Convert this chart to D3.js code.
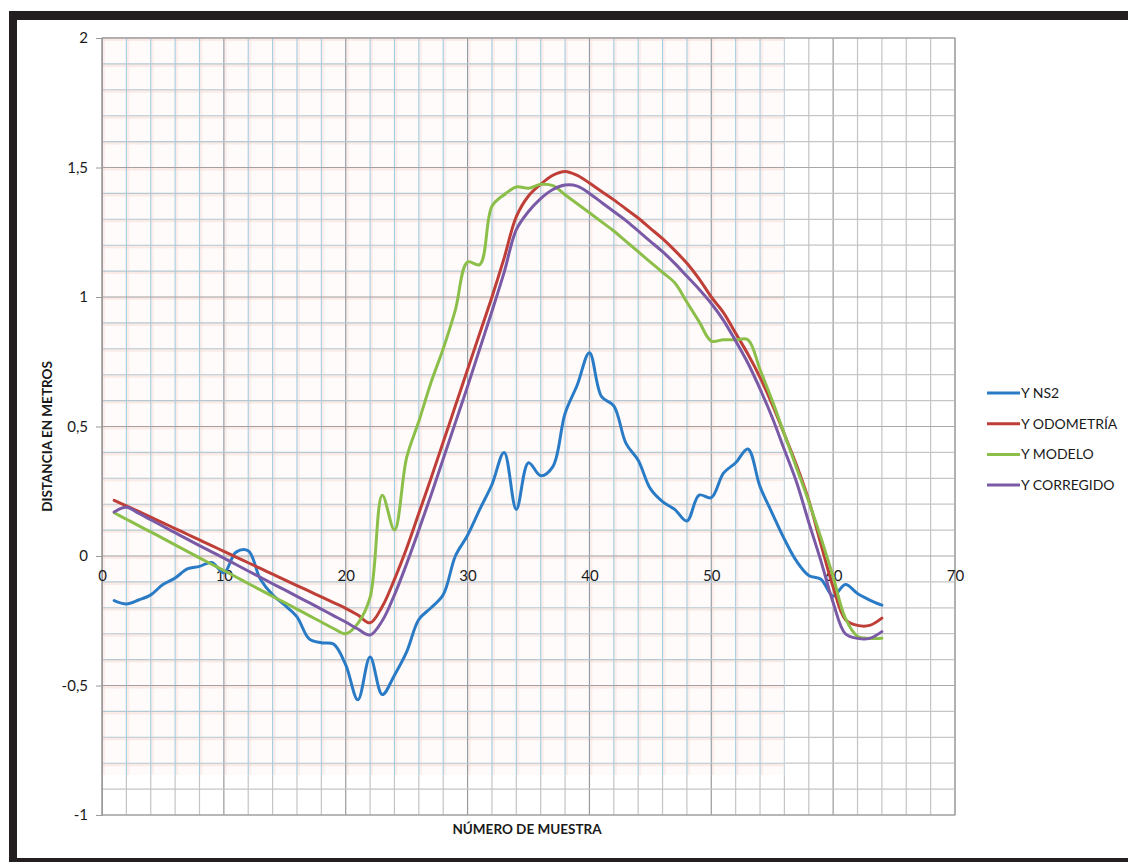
<!DOCTYPE html>
<html>
<head>
<meta charset="utf-8">
<script src="https://cdn.jsdelivr.net/npm/d3@7"></script>
<style>
  body { margin: 0; background: #fff; }
  svg { display: block; }
  text { font-family: Lato, "Open Sans", "Liberation Sans", sans-serif; fill: #1a1a1a; }
</style>
</head>
<body>
<svg id="chart" width="1128" height="862"></svg>
<script>
// Sample numbers 1..64
const samples = d3.range(1, 65);

// Y position per sample (metres)
const yNS2 = [
  -0.172, -0.185, -0.170, -0.150, -0.110, -0.085, -0.050, -0.040, -0.025, -0.065,
   0.015,  0.020, -0.090, -0.150, -0.190, -0.235, -0.320, -0.335, -0.340, -0.420,
  -0.555, -0.390, -0.535, -0.460, -0.370, -0.245, -0.200, -0.150,  0.000,  0.080,
   0.180,  0.276,  0.400,  0.180,  0.360,  0.310,  0.345,  0.550,  0.660,  0.785,
   0.615,  0.580,  0.435,  0.370,  0.260,  0.210,  0.180,  0.135,  0.235,  0.225,
   0.320,  0.360,  0.413,  0.268,  0.165,  0.065, -0.020, -0.075, -0.090, -0.155,
  -0.110, -0.145, -0.170, -0.190
];
const yOdometria = [
   0.215,  0.194,  0.172,  0.150,  0.128,  0.106,  0.084,  0.062,  0.040,  0.018,
  -0.004, -0.026, -0.048, -0.070, -0.092, -0.114, -0.136, -0.158, -0.180, -0.202,
  -0.228, -0.258, -0.195, -0.090,  0.030,  0.165,  0.300,  0.440,  0.580,  0.720,
   0.860,  1.000,  1.150,  1.310,  1.390,  1.435,  1.470,  1.485,  1.470,  1.440,
   1.407,  1.375,  1.340,  1.305,  1.265,  1.225,  1.180,  1.130,  1.070,  1.000,
   0.940,  0.860,  0.780,  0.690,  0.585,  0.470,  0.350,  0.215,  0.045, -0.120,
  -0.245, -0.268, -0.268, -0.240
];
const yModelo = [
   0.167,  0.142,  0.117,  0.093,  0.068,  0.043,  0.018, -0.007, -0.032, -0.056,
  -0.081, -0.106, -0.131, -0.156, -0.180, -0.205, -0.230, -0.255, -0.280, -0.300,
  -0.260, -0.160,  0.235,  0.100,  0.380,  0.520,  0.670,  0.800,  0.950,  1.135,
   1.125,  1.350,  1.395,  1.425,  1.420,  1.435,  1.430,  1.395,  1.360,  1.325,
   1.290,  1.255,  1.215,  1.175,  1.135,  1.095,  1.055,  0.980,  0.905,  0.830,
   0.835,  0.835,  0.835,  0.720,  0.600,  0.470,  0.340,  0.210,  0.070, -0.080,
  -0.240, -0.310, -0.318, -0.318
];
const yCorregido = [
   0.170,  0.188,  0.165,  0.140,  0.115,  0.090,  0.065,  0.040,  0.016, -0.008,
  -0.033, -0.058, -0.082, -0.107, -0.131, -0.156, -0.180, -0.205, -0.230, -0.255,
  -0.282, -0.305, -0.250, -0.150, -0.030,  0.100,  0.235,  0.375,  0.515,  0.655,
   0.800,  0.945,  1.095,  1.260,  1.330,  1.380,  1.415,  1.432,  1.428,  1.400,
   1.365,  1.330,  1.295,  1.255,  1.215,  1.175,  1.130,  1.080,  1.030,  0.975,
   0.910,  0.830,  0.745,  0.645,  0.535,  0.410,  0.285,  0.130, -0.020, -0.180,
  -0.300, -0.318, -0.318, -0.292
];

const seriesNames = ["Y NS2", "Y ODOMETRÍA", "Y MODELO", "Y CORREGIDO"];
const seriesColors = ["#2a7bc6", "#bf3f38", "#8cbf4a", "#7a5aa6"];
const seriesValues = [yNS2, yOdometria, yModelo, yCorregido];

const xTicks = [0, 10, 20, 30, 40, 50, 60, 70];
const yTicks = [2, 1.5, 1, 0.5, 0, -0.5, -1];
const yTickLabels = ["2", "1,5", "1", "0,5", "0", "-0,5", "-1"];

const svg = d3.select("#chart");

// Frame around the figure
svg.append("rect").attr("x", 9).attr("y", 11).attr("width", 1119).attr("height", 9).attr("fill", "#231f20");
svg.append("rect").attr("x", 9).attr("y", 11).attr("width", 8).attr("height", 851).attr("fill", "#231f20");
svg.append("rect").attr("x", 9).attr("y", 858).attr("width", 1119).attr("height", 4).attr("fill", "#231f20");

const x = d3.scaleLinear().domain([0, 70]).range([102, 955]);
const y = d3.scaleLinear().domain([-1, 2]).range([815, 38]);

const minorX = d3.range(0, 71, 2);
const minorY = d3.range(-10, 21, 1).map(v => v / 10);
const isMajorX = v => v % 10 === 0;
const isMajorY = v => Math.abs(Math.round(v * 2) - v * 2) < 1e-9;

// Plain grey grid over the whole plot area
const gGrey = svg.append("g");
gGrey.selectAll("line.vx").data(minorX).join("line")
  .attr("x1", d => x(d)).attr("x2", d => x(d))
  .attr("y1", y(2)).attr("y2", y(-1))
  .attr("stroke", d => isMajorX(d) ? "#9a9a9a" : "#c4c4c4").attr("stroke-width", 1.2);
gGrey.selectAll("line.hy").data(minorY).join("line")
  .attr("x1", x(0)).attr("x2", x(70))
  .attr("y1", d => y(d)).attr("y2", d => y(d))
  .attr("stroke", d => isMajorY(d) ? "#a8a8a8" : "#c6c6c6").attr("stroke-width", 1.2);

// Tinted paper region with blue / salmon grid
const tint = { x0: x(0), x1: x(56), y0: y(2), y1: y(-0.846) };
svg.append("clipPath").attr("id", "tintClip").append("rect")
  .attr("x", tint.x0).attr("y", tint.y0 - 1)
  .attr("width", tint.x1 - tint.x0).attr("height", tint.y1 - tint.y0 + 1);
svg.append("rect")
  .attr("x", tint.x0).attr("y", tint.y0)
  .attr("width", tint.x1 - tint.x0).attr("height", tint.y1 - tint.y0)
  .attr("fill", "#fffbfa");
const gTint = svg.append("g").attr("clip-path", "url(#tintClip)");
// faint salmon halos
gTint.selectAll("line.hv").data(minorX).join("line")
  .attr("x1", d => x(d) + 1.5).attr("x2", d => x(d) + 1.5)
  .attr("y1", tint.y0).attr("y2", tint.y1)
  .attr("stroke", "#f5d8d0").attr("stroke-width", 3).attr("opacity", 0.35);
gTint.selectAll("line.hh").data(minorY).join("line")
  .attr("x1", tint.x0).attr("x2", tint.x1)
  .attr("y1", d => y(d) + 1.5).attr("y2", d => y(d) + 1.5)
  .attr("stroke", "#f5d8d0").attr("stroke-width", 3).attr("opacity", 0.45);
gTint.selectAll("line.bv").data(minorX).join("line")
  .attr("x1", d => x(d)).attr("x2", d => x(d))
  .attr("y1", tint.y0).attr("y2", tint.y1)
  .attr("stroke", d => isMajorX(d) ? "#8f9aa3" : "#a3cde0").attr("stroke-width", 1.1);
gTint.selectAll("line.bh").data(minorY).join("line")
  .attr("x1", tint.x0).attr("x2", tint.x1)
  .attr("y1", d => y(d)).attr("y2", d => y(d))
  .attr("stroke", d => isMajorY(d) ? "#a4a0a4" : "#b4c9d3").attr("stroke-width", 1.1);

// Plot border
svg.append("rect")
  .attr("x", x(0)).attr("y", y(2))
  .attr("width", x(70) - x(0)).attr("height", y(-1) - y(2))
  .attr("fill", "none").attr("stroke", "#a6a6a6").attr("stroke-width", 1.2);

// Y axis ticks and labels
const yAxis = d3.axisLeft(y).tickValues(yTicks).tickSize(6)
  .tickFormat((d, i) => yTickLabels[i]);
const gy = svg.append("g").attr("transform", `translate(${x(0)},0)`).call(yAxis);
gy.select(".domain").attr("stroke", "#9a9a9a");
gy.selectAll(".tick line").attr("stroke", "#9a9a9a");
gy.selectAll(".tick text").attr("x", -14).attr("font-size", 15)
  .attr("font-family", "Lato, 'Open Sans', sans-serif").attr("fill", "#1a1a1a");

// X axis labels sit under the zero line
const xAxis = d3.axisBottom(x).tickValues(xTicks).tickSize(0).tickFormat(d3.format("d"));
const gx = svg.append("g").attr("transform", `translate(0,${y(0)})`).call(xAxis);
gx.select(".domain").remove();
gx.selectAll(".tick text").attr("y", 14).attr("font-size", 15)
  .attr("font-family", "Lato, 'Open Sans', sans-serif").attr("fill", "#1a1a1a");

// Series lines
const line = d3.line()
  .x((d, i) => x(samples[i]))
  .y(d => y(d))
  .curve(d3.curveCatmullRom.alpha(0.5));
svg.append("g").selectAll("path.series").data(seriesValues).join("path")
  .attr("d", d => line(d))
  .attr("fill", "none")
  .attr("stroke", (d, i) => seriesColors[i])
  .attr("stroke-width", 3)
  .attr("stroke-linejoin", "round")
  .attr("stroke-linecap", "round");

// Axis titles
svg.append("text")
  .attr("transform", `translate(52,${(y(2) + y(-1)) / 2 + 10}) rotate(-90)`)
  .attr("text-anchor", "middle").attr("font-size", 13.5).attr("font-weight", "bold")
  .text("DISTANCIA EN METROS");
svg.append("text")
  .attr("x", 527).attr("y", 834)
  .attr("text-anchor", "middle").attr("font-size", 13.5).attr("font-weight", "bold")
  .text("NÚMERO DE MUESTRA");

// Legend
const legend = svg.append("g").attr("transform", "translate(987,393)");
const items = legend.selectAll("g").data(seriesNames).join("g")
  .attr("transform", (d, i) => `translate(0,${i * 30.7})`);
items.append("line").attr("x1", 0).attr("x2", 33).attr("y1", 0).attr("y2", 0)
  .attr("stroke", (d, i) => seriesColors[i]).attr("stroke-width", 3);
items.append("text").attr("x", 34).attr("y", 0).attr("dy", "0.35em")
  .attr("font-size", 14).text(d => d);
</script>
</body>
</html>
